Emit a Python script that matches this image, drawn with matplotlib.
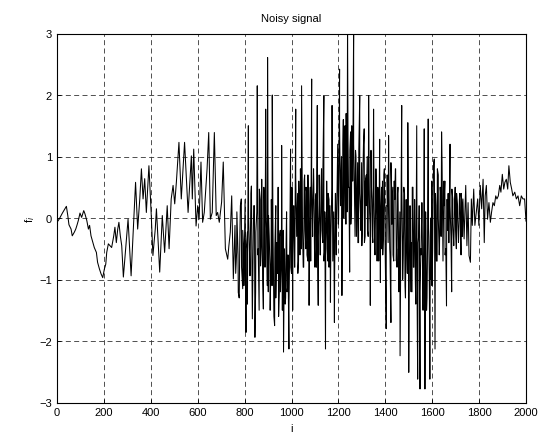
import matplotlib
matplotlib.use("Agg")
import matplotlib.pyplot as plt

plt.rcParams['font.family'] = ['Liberation Sans', 'DejaVu Sans']

# vertices of the noisy signal (sample index, value)
idx_start = [0, 9, 23, 34, 40, 46, 51, 60, 65, 74, 80, 85, 91, 98, 105, 114, 119,
             127, 134, 139, 145, 151, 159, 168, 173, 181, 188, 195, 202, 208,
             212, 219, 226, 233, 242, 247, 253, 259, 264, 270, 276, 283]
val_start = [-0.07, -0.02, 0.08, 0.15, 0.19, 0.04, -0.11, -0.18, -0.29, -0.23,
             -0.18, -0.12, -0.04, 0.08, 0.01, 0.12, 0.07, -0.04, -0.18, -0.12,
             -0.29, -0.37, -0.48, -0.56, -0.72, -0.83, -0.91, -0.97, -0.83, -0.75,
             -0.56, -0.42, -0.45, -0.48, -0.29, -0.15, -0.40, -0.18, -0.07, -0.29,
             -0.45, -0.96]

idx_swing = [303, 316, 327, 335, 344, 353, 360, 367, 374, 381, 392, 402, 409, 419,
             424, 438, 449, 459, 470, 478, 487, 495, 502, 509, 520, 530, 544, 559,
             573, 577, 583, 593, 600, 606, 614, 621, 628, 640, 647, 654, 662, 671,
             679, 685, 692, 702, 709, 718, 728, 733, 739, 745, 752]
val_swing = [-0.02, -0.94, -0.07, 0.58, -0.18, 0.31, 0.80, 0.31, 0.64, 0.09, 0.85,
             0.04, -0.61, -0.18, 0.15, -0.88, 0.04, -0.56, 0.20, -0.50, 0.31, 0.53,
             0.23, 0.58, 1.23, 0.31, 1.23, 0.09, 1.01, 0.31, 1.12, -0.13, 0.20,
             -0.02, 0.91, -0.07, 0.09, 0.80, 1.39, -0.02, 0.09, 1.39, 0.04, 0.09,
             -0.07, 0.26, 0.91, -0.50, -0.67, -0.45, -0.23, 0.36, -0.99]

# peaks and spikes of the dense part
idx_noise1 = [759, 766, 773, 780, 786, 792, 797, 806, 812, 816, 823, 829, 833, 839,
              844, 848, 854, 858, 863, 868, 873, 880, 884, 890, 894, 898, 902, 908,
              914, 918, 922, 928, 933, 938, 943, 948, 952, 958, 962, 966, 970, 975,
              979, 984, 989, 993, 996, 1000, 1005, 1009, 1013, 1018, 1022, 1027,
              1031, 1036, 1040, 1043, 1047, 1052, 1056, 1061, 1065, 1070, 1075,
              1080, 1086, 1090, 1095, 1100, 1105, 1110, 1114, 1118, 1123, 1128,
              1133, 1138, 1142, 1145, 1150, 1155]
val_noise1 = [-0.12, -0.56, -1.21, -0.23, 0.31, -1.15, -0.56, -1.86, -0.23, 1.50,
              -0.94, 0.52, -1.64, 0.20, -1.94, -0.23, 2.15, -0.50, 0.47, -0.78,
              0.63, -1.48, 0.31, 1.77, -0.23, 2.61, 0.04, -0.78, 0.30, 2.00, -0.50,
              -1.75, 0.20, -0.60, 0.50, -1.20, -0.20, 1.18, -0.90, -2.18, -0.50,
              -1.30, 0.10, -1.10, -2.13, -0.40, 1.12, -0.90, -1.50, 0.20, -0.80,
              1.77, -0.30, -0.90, 0.60, -0.60, 0.30, 2.15, -0.20, -0.80, 0.70,
              -0.50, 0.40, -0.70, -1.42, 0.50, 2.26, -0.30, 0.60, -0.80, 0.40,
              1.83, -1.42, 0.30, -0.60, 0.80, -0.40, 1.99, -0.50, -2.13, 0.20,
              -0.70]

idx_noise2 = [1160, 1166, 1170, 1173, 1177, 1183, 1187, 1191, 1196, 1200, 1205,
              1209, 1215, 1219, 1223, 1228, 1232, 1236, 1239, 1243, 1248, 1252,
              1256, 1260, 1265, 1269, 1273, 1277, 1282, 1286, 1291, 1295, 1300,
              1305, 1310, 1314, 1319, 1324, 1329, 1333, 1336, 1341, 1345, 1350,
              1355, 1360, 1365, 1370, 1376, 1379, 1384, 1389, 1394, 1399, 1404,
              1408, 1414, 1419, 1424, 1428, 1433, 1438, 1443, 1447]
val_noise2 = [0.30, -1.37, 0.10, 1.83, -0.50, -1.70, 0.40, -0.60, 0.90, -0.10,
              2.42, 0.20, -1.26, 1.20, 0.00, 1.50, -0.10, 0.80, 3.10, 0.50, -0.88,
              1.40, 0.20, 1.00, 3.10, 0.30, 1.10, -0.30, 0.90, -0.40, 1.99, 0.00,
              -0.45, 0.80, 1.45, -0.30, 0.70, -0.20, 1.99, 0.10, -1.42, 0.50,
              -0.30, 1.77, -0.50, 0.60, -0.70, 0.40, 1.28, -1.05, 0.50, -0.60,
              0.70, -0.30, -1.80, 0.20, 1.34, -0.50, -1.70, 0.30, -0.60, 0.60,
              0.80, -0.70]

idx_noise3 = [1452, 1458, 1463, 1467, 1470, 1474, 1479, 1484, 1489, 1494, 1496,
              1500, 1505, 1510, 1515, 1520, 1525, 1530, 1534, 1538, 1542, 1545,
              1548, 1552, 1557, 1561, 1566, 1569, 1573, 1578, 1583, 1587, 1590,
              1594, 1599, 1604, 1609, 1612, 1616, 1621, 1626, 1631, 1636, 1640,
              1645, 1650, 1655, 1661, 1665, 1670, 1676, 1683, 1688, 1693, 1698,
              1703, 1708, 1713, 1718, 1723, 1727]
val_noise3 = [0.40, -1.00, -2.24, 0.10, 1.83, -0.60, 0.50, -1.10, 0.30, -0.90,
              1.55, -2.51, 0.20, -1.20, 0.50, -0.80, 0.30, -1.40, 1.50, -2.62,
              -0.30, 0.20, -2.78, -0.50, 0.10, -1.50, 1.45, -2.78, -0.20, -1.30,
              1.61, -0.80, -2.62, 0.00, -1.10, 0.50, 0.96, -2.13, 0.20, -0.70,
              0.70, -0.50, 0.40, 1.40, -0.30, 0.60, -0.60, -1.43, 0.30, -0.40,
              1.20, -1.20, 0.30, -0.30, 0.50, -0.50, 0.20, -0.30, 0.40, -0.60,
              0.20]

# in-between samples filling the dark band of the dense part
idx_band = (list(range(762, 898, 5)) + list(range(901, 998, 4))
            + list(range(1002, 1151, 4)) + list(range(1152, 1193, 4))
            + list(range(1197, 1266, 4)) + list(range(1267, 1348, 4))
            + list(range(1352, 1449, 4)) + list(range(1450, 1527, 4))
            + list(range(1528, 1597, 4)) + list(range(1598, 1667, 4))
            + list(range(1668, 1729, 4)))
val_band = [-0.9, 0.1, -0.6, -1.3, 0.2, -0.8, -0.2, -1.1, 0.3, -0.5, -1.4, 0.0,
            -0.7, 0.4, -1.0, -0.3, 0.2, -1.2, 0.1, -0.6, -1.5, 0.3, -0.4, -1.0,
            0.5, -0.8, 0.0, -1.1,
            -1.2, -0.3, -1.5, -0.6, -1.1, -0.2, -1.6, -0.5, -1.3, -0.4, -0.9,
            -1.6, -0.3, -1.2, -0.7, -1.5, -0.2, -1.0, -1.4, -0.4, -1.2, -0.6,
            -1.5, -0.3, -0.8,
            0.5, -0.6, 0.2, -0.8, 0.7, -0.3, 0.4, -0.7, 0.1, 0.8, -0.5, 0.3,
            -0.8, 0.6, -0.2, 0.5, -0.6, 0.7, -0.4, 0.2, -0.7, 0.6, -0.1, 0.8,
            -0.5, 0.3, -0.8, 0.4, -0.3, 0.7, -0.6, 0.5, -0.2, 0.8, -0.7, 0.1,
            -0.4, 0.6,
            -0.5, 0.4, -0.8, 0.2, -0.3, 0.5, -0.7, 0.1, -0.9, 0.4, -0.2,
            1.2, 0.0, 1.5, 0.3, 1.0, -0.2, 1.6, 0.4, 0.9, 1.7, 0.1, 1.3, 0.5,
            1.1, -0.1, 1.5, 0.6, 1.2,
            0.8, -0.3, 1.0, 0.2, -0.4, 1.1, 0.4, -0.2, 0.9, 0.0, 1.2, -0.4, 0.6,
            0.2, 1.0, -0.3, 0.7, -0.1, 1.1, 0.3, -0.4,
            0.3, -0.6, 0.8, -0.2, 0.5, -0.7, 0.9, 0.0, -0.5, 0.6, -0.3, 0.8,
            -0.7, 0.2, 0.7, -0.4, 0.4, -0.6, 0.9, -0.1, 0.5, -0.7, 0.3, 0.8, -0.5,
            -0.8, 0.5, -1.2, 0.1, -0.5, 0.6, -1.0, -0.2, 0.4, -1.3, 0.0, -0.7,
            0.6, -1.1, 0.2, -0.4, -1.2, 0.5, -0.8, 0.1,
            -1.0, 0.1, -1.5, -0.4, 0.2, -1.2, -0.6, 0.25, -1.4, -0.2, -0.9, 0.1,
            -1.5, -0.5, 0.0, -1.2, -0.3, -1.0,
            0.6, -0.5, 0.9, -0.2, 0.4, -0.7, 0.8, 0.0, -0.6, 0.5, -0.3, 0.9,
            -0.7, 0.2, 0.6, -0.5, 0.3, -0.2,
            0.4, -0.4, 0.2, -0.3, 0.47, -0.1, -0.45, 0.3, -0.2, 0.4, 0.0, -0.4,
            0.3, -0.1, 0.4, -0.3]

idx_end = [1731, 1736, 1743, 1748, 1753, 1757, 1763, 1767, 1771, 1777, 1782, 1788,
           1794, 1799, 1805, 1811, 1817, 1822, 1826, 1831, 1836, 1842, 1848, 1853,
           1859, 1865, 1871, 1876, 1882, 1888, 1893, 1899, 1905, 1910, 1916, 1922,
           1927, 1933, 1939, 1944, 1952, 1959, 1966, 1973, 1980, 1987, 1994, 2000]
val_end = [0.31, -0.34, 0.53, -0.45, 0.25, -0.61, -0.72, 0.31, -0.12, 0.47, -0.12,
           0.09, 0.31, -0.12, 0.53, 0.15, 0.63, -0.40, 0.36, 0.53, -0.02, 0.25,
           -0.07, 0.09, 0.25, 0.20, 0.36, 0.31, 0.36, 0.53, 0.42, 0.71, 0.47, 0.58,
           0.63, 0.47, 0.85, 0.58, 0.47, 0.36, 0.42, 0.31, 0.36, 0.20, 0.36, 0.31,
           0.31, -0.05]

x_ticks = list(range(0, 2001, 200))
y_ticks = [-3, -2, -1, 0, 1, 2, 3]

pairs = sorted(zip(idx_start + idx_swing + idx_noise1 + idx_noise2 + idx_noise3
                   + idx_band + idx_end,
                   val_start + val_swing + val_noise1 + val_noise2 + val_noise3
                   + val_band + val_end), key=lambda p: p[0])
sample_idx = [p[0] for p in pairs]
signal = [p[1] for p in pairs]

fig = plt.figure(figsize=(5.4, 4.35), dpi=100)
ax = fig.add_axes([57 / 540, 1 - 403.5 / 435, 469 / 540, 369 / 435])

ax.plot(sample_idx, signal, color='k', linewidth=0.75)

ax.set_xlim(0, 2000)
ax.set_ylim(-3, 3)
ax.set_xticks(x_ticks)
ax.set_yticks(y_ticks)
ax.tick_params(direction='in', length=3, labelsize=8, width=0.6)
ax.grid(True, color='0.2', linestyle=(0, (6, 4)), linewidth=0.6)
for s in ax.spines.values():
    s.set_linewidth(0.8)

ax.set_title('Noisy signal', fontsize=8, pad=9)
ax.set_xlabel('i', fontsize=8, labelpad=4)
ax.set_ylabel('f$_i$', fontsize=8, labelpad=2)

fig.savefig('out.png', dpi=100)
